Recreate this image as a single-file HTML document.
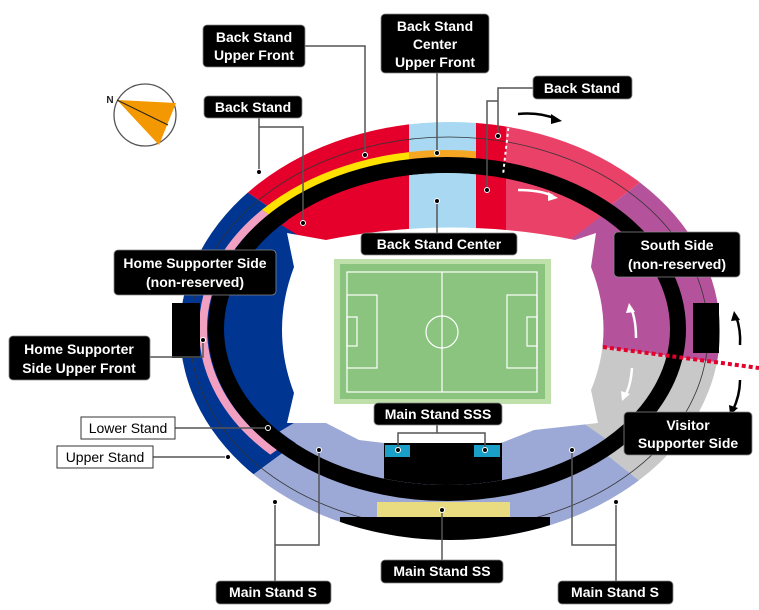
<!DOCTYPE html>
<html><head><meta charset="utf-8"><style>
html,body{margin:0;padding:0;background:#fff;width:759px;height:610px;overflow:hidden;}
svg{display:block;}
text{font-family:"Liberation Sans",sans-serif;font-size:14px;font-weight:bold;fill:#fff;text-anchor:middle;}
</style></head><body>
<svg width="759" height="610" viewBox="0 0 759 610" xmlns="http://www.w3.org/2000/svg">
<defs>
<clipPath id="outer"><ellipse cx="450" cy="331" rx="270" ry="209"/></clipPath>
<clipPath id="inner"><ellipse cx="447" cy="329" rx="222" ry="156"/></clipPath>
<clipPath id="cy"><polygon points="447,330 0,40 0,0 409,0 409,330"/></clipPath>
<clipPath id="co"><polygon points="409,0 476,0 476,330 409,330"/></clipPath>
<clipPath id="cp"><polygon points="447,330 0,40 0,610 50,610"/></clipPath>
</defs>
<g clip-path="url(#outer)">
<polygon points="450,330 0,24 0,610 69,610" fill="#003592"/>
<polygon points="450,330 0,24 0,0 409,0 409,330" fill="#e4002b"/>
<polygon points="409,0 476,0 476,330 409,330" fill="#a8d8f2"/>
<polygon points="476,0 506,0 506,330 476,330" fill="#e4002b"/>
<polygon points="506,330 506,0 759,0 759,90 450,330" fill="#ea4169"/>
<polygon points="450,330 759,90 759,368 603,347" fill="#b4539b"/>
<polygon points="450,330 603,347 759,368 759,576" fill="#c8c8c8"/>
<polygon points="450,330 759,576 759,610 69,610" fill="#9ca9d6"/>
<ellipse cx="449" cy="333" rx="259" ry="196" fill="none" stroke="#333" stroke-width="0.8"/>
</g>
<ellipse cx="447" cy="329" rx="244" ry="175" fill="none" stroke="#ffe100" stroke-width="8" clip-path="url(#cy)"/>
<ellipse cx="447" cy="329" rx="244" ry="175" fill="none" stroke="#f5a623" stroke-width="8" clip-path="url(#co)"/>
<ellipse cx="447" cy="329" rx="244" ry="175" fill="none" stroke="#f2a0c2" stroke-width="8" clip-path="url(#cp)"/>
<ellipse cx="447" cy="329" rx="231" ry="164" fill="none" stroke="#000" stroke-width="16"/>
<g clip-path="url(#inner)">
<polygon points="450,330 0,50 0,598" fill="#003592"/>
<polygon points="450,330 0,50 0,0 409,0 409,330" fill="#e4002b"/>
<polygon points="409,0 476,0 476,330 409,330" fill="#a8d8f2"/>
<polygon points="476,0 506,0 506,330 476,330" fill="#e4002b"/>
<polygon points="506,330 506,0 759,0 759,98 450,330" fill="#ea4169"/>
<polygon points="450,330 759,98 759,368 603,347" fill="#b4539b"/>
<polygon points="450,330 603,347 759,368 759,546" fill="#c8c8c8"/>
<polygon points="450,330 759,546 759,610 0,610 0,598" fill="#9ca9d6"/>
<rect x="384" y="430" width="118" height="80" fill="#000"/>
</g>
<g clip-path="url(#outer)">
<rect x="340" y="517" width="210" height="40" fill="#000"/>
</g>
<rect x="377" y="502" width="133" height="15" fill="#e9dc80"/>
<rect x="385" y="445" width="25" height="12" fill="#1a9fc8"/>
<rect x="474" y="445" width="26" height="12" fill="#1a9fc8"/>
<rect x="172" y="303" width="28" height="55" fill="#000"/>
<rect x="693" y="303" width="26" height="50" fill="#000"/>
<line x1="509" y1="122" x2="503" y2="175" stroke="#fff" stroke-width="2" stroke-dasharray="3,3"/>
<line x1="603" y1="347" x2="759" y2="368" stroke="#e4002b" stroke-width="4" stroke-dasharray="4,3"/>
<path d="M287,233 L326,240 Q450,215 575,240 L596,233 L591,267 Q616,330 591,390 L598,423 L534,430 L501,443 L384,443 L359,440 L326,423 L287,423 L294,393 Q270,330 294,267 Z" fill="#fff"/>
<rect x="334" y="259" width="217" height="145" fill="#bfe0aa"/>
<rect x="340" y="264" width="205" height="135" fill="#8bc47f"/>
<g fill="none" stroke="#fff" stroke-width="1.2">
<rect x="347" y="272" width="190" height="120"/>
<line x1="442" y1="272" x2="442" y2="392"/>
<circle cx="442" cy="332" r="16"/>
<rect x="347" y="295" width="30" height="73"/>
<rect x="347" y="317" width="10" height="29"/>
<rect x="507" y="295" width="30" height="73"/>
<rect x="527" y="317" width="10" height="29"/>
</g>
<g fill="none" stroke-width="2.5">
<path d="M518,114 Q540,112 556,119" stroke="#000"/>
<path d="M518,190 Q540,190 553,196" stroke="#fff"/>
<path d="M636,338 Q636,320 631,308" stroke="#fff"/>
<path d="M632,368 Q631,385 625,396" stroke="#fff"/>
<path d="M740,345 Q741,330 736,316" stroke="#000"/>
<path d="M740,380 Q740,395 733,410" stroke="#000"/>
</g>
<polygon points="562,121 551,114 551,124" fill="#000"/>
<polygon points="558,198 548,192 548,201" fill="#fff"/>
<polygon points="629,303 626,313 635,312" fill="#fff"/>
<polygon points="622,401 621,391 630,394" fill="#fff"/>
<polygon points="734,311 731,321 740,320" fill="#000"/>
<polygon points="730,415 729,405 738,408" fill="#000"/>
<circle cx="145" cy="115" r="31" fill="#fff" stroke="#555" stroke-width="1.3"/>
<polygon points="117,100 176,103 159,145" fill="#f39800"/>
<line x1="117" y1="100" x2="168" y2="125" stroke="#222" stroke-width="1"/>
<text x="110" y="103" style="fill:#222;font-size:10px">N</text>
<g fill="none" stroke="#555" stroke-width="1.5">
<path d="M305,46 L365,46 L365,155"/>
<path d="M437,73 L437,153"/>
<path d="M487,190 L487,101 L498,101 L498,136 M498,101 L498,88 L533,88"/>
<path d="M259,118 L259,172 M259,127 L303,127 L303,223"/>
<path d="M437,233 L437,201"/>
<path d="M150,357 L203,357 L203,340"/>
<path d="M175,428 L268,428"/>
<path d="M153,457 L228,457"/>
<path d="M437,425 L437,433 M398,450 L398,433 L485,433 L485,450"/>
<path d="M275,502 L275,581 M275,545 L319,545 L319,450"/>
<path d="M442,560 L442,510"/>
<path d="M572,450 L572,545 L616,545 L616,502 M616,545 L616,581"/>
</g>
<g fill="#000" stroke="#fff" stroke-width="1">
<circle cx="365" cy="155" r="2.5"/><circle cx="437" cy="153" r="2.5"/>
<circle cx="487" cy="190" r="2.5"/><circle cx="498" cy="136" r="2.5"/>
<circle cx="259" cy="172" r="2.5"/><circle cx="303" cy="223" r="2.5"/>
<circle cx="437" cy="201" r="2.5"/><circle cx="203" cy="340" r="2.5"/>
<circle cx="268" cy="428" r="2.5"/><circle cx="228" cy="457" r="2.5"/>
<circle cx="398" cy="450" r="2.5"/><circle cx="485" cy="450" r="2.5"/>
<circle cx="275" cy="502" r="2.5"/><circle cx="319" cy="450" r="2.5"/>
<circle cx="442" cy="510" r="2.5"/><circle cx="572" cy="450" r="2.5"/>
<circle cx="616" cy="502" r="2.5"/>
</g>
<g fill="#000" stroke="#888" stroke-width="0.8">
<rect x="203" y="25" width="102" height="42" rx="4"/>
<rect x="381" y="14" width="108" height="59" rx="4"/>
<rect x="533" y="76" width="99" height="23" rx="4"/>
<rect x="204" y="96" width="98" height="22" rx="4"/>
<rect x="361" y="233" width="156" height="22" rx="4"/>
<rect x="114" y="250" width="162" height="45" rx="4"/>
<rect x="614" y="232" width="126" height="45" rx="4"/>
<rect x="9" y="336" width="141" height="44" rx="4"/>
<rect x="374" y="403" width="128" height="22" rx="4"/>
<rect x="624" y="412" width="128" height="43" rx="4"/>
<rect x="216" y="581" width="115" height="23" rx="4"/>
<rect x="381" y="560" width="122" height="23" rx="4"/>
<rect x="558" y="581" width="115" height="23" rx="4"/>
</g>
<rect x="81" y="417" width="94" height="22" fill="#fff" stroke="#333" stroke-width="1"/>
<rect x="57" y="446" width="96" height="22" fill="#fff" stroke="#333" stroke-width="1"/>
<text x="254" y="42">Back Stand</text><text x="254" y="60">Upper Front</text>
<text x="435" y="31">Back Stand</text><text x="435" y="49">Center</text><text x="435" y="67">Upper Front</text>
<text x="582" y="93">Back Stand</text>
<text x="253" y="112">Back Stand</text>
<text x="439" y="249">Back Stand Center</text>
<text x="195" y="268">Home Supporter Side</text><text x="195" y="287">(non-reserved)</text>
<text x="677" y="250">South Side</text><text x="677" y="269">(non-reserved)</text>
<text x="79" y="354">Home Supporter</text><text x="79" y="373">Side Upper Front</text>
<text x="128" y="433" style="fill:#000;font-weight:normal">Lower Stand</text>
<text x="105" y="462" style="fill:#000;font-weight:normal">Upper Stand</text>
<text x="438" y="419">Main Stand SSS</text>
<text x="688" y="430">Visitor</text><text x="688" y="448">Supporter Side</text>
<text x="273" y="597">Main Stand S</text>
<text x="442" y="576">Main Stand SS</text>
<text x="615" y="597">Main Stand S</text>
</svg>
</body></html>
